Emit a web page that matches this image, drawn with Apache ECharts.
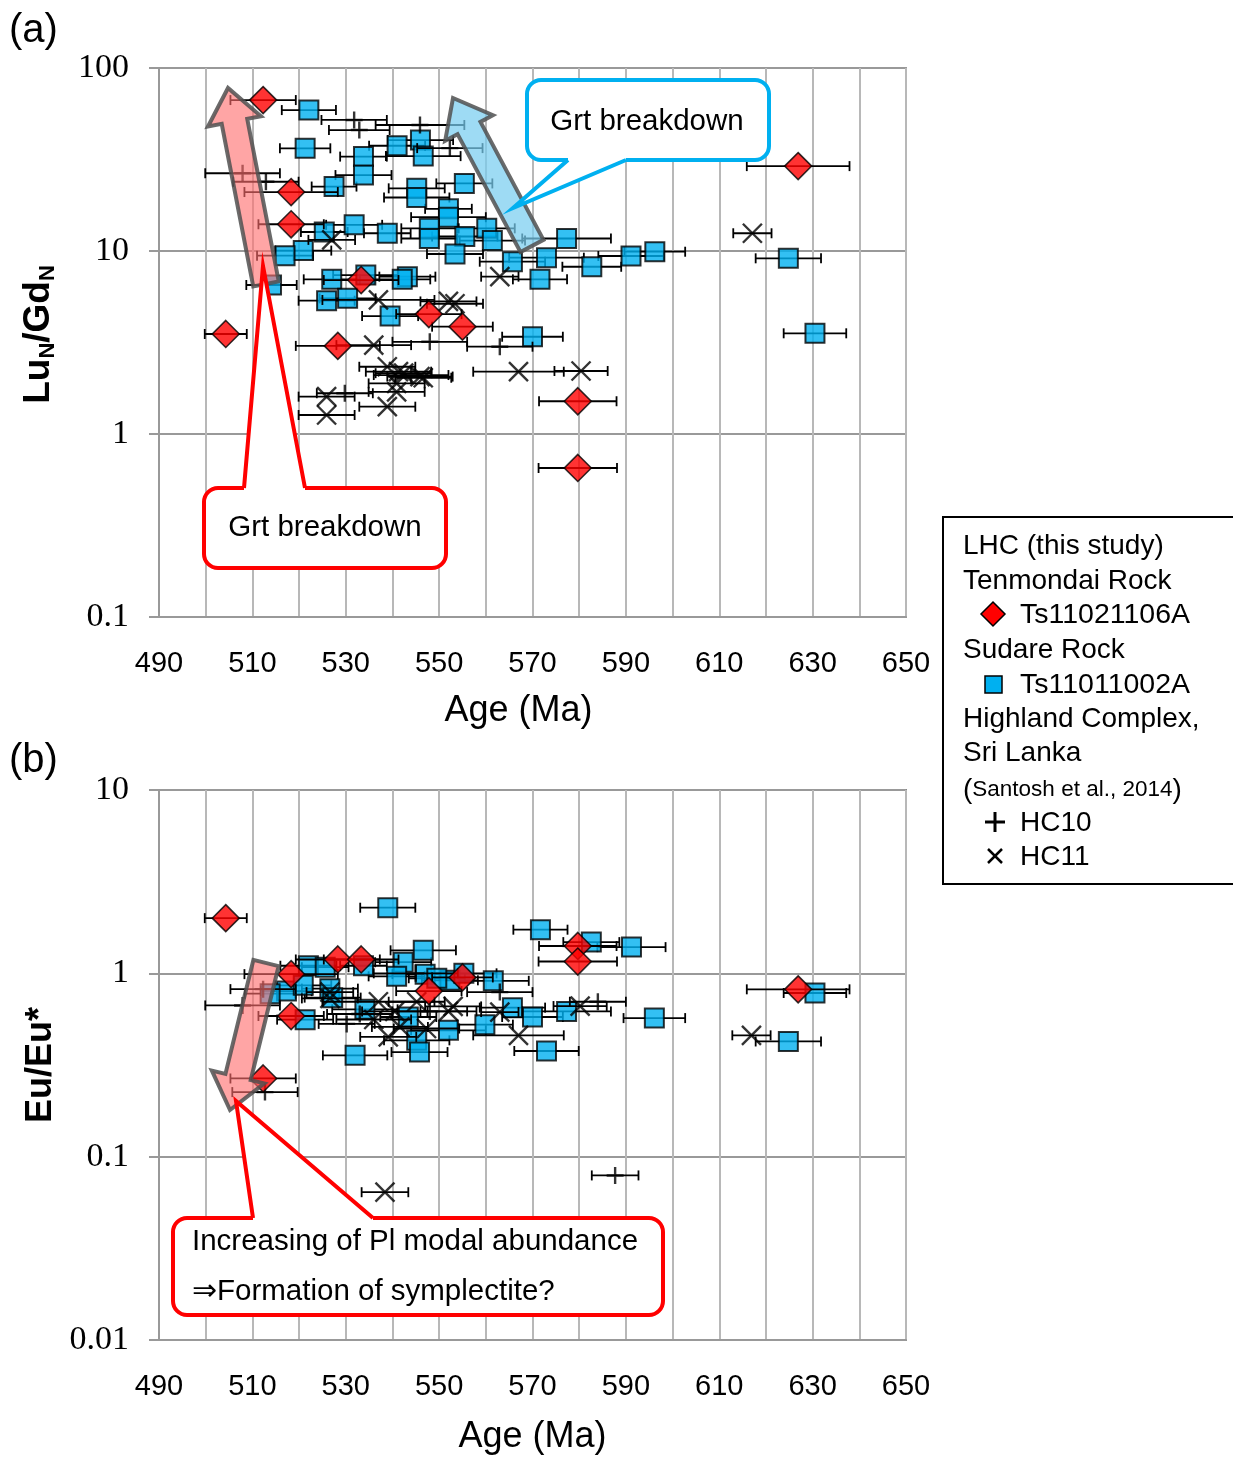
<!DOCTYPE html>
<html>
<head>
<meta charset="utf-8">
<script src="https://cdn.jsdelivr.net/npm/echarts@6/dist/echarts.min.js"></script>
<style>
  html, body { margin: 0; padding: 0; background: #fff; }
  #chart { width: 1233px; height: 1458px; }
</style>
</head>
<body>
<div id="chart"></div>
<script>
// ---- Zircon data: age (Ma) with 2σ error, Lu_N/Gd_N and Eu/Eu* ----

// Ts11021106A (Tenmondai Rock)
const tsDiaAge  = [504.3, 512.3, 518.3, 518.3, 528.3, 533.3, 547.8, 555.0, 579.7, 579.7, 626.9];
const tsDiaErr  = [4.5, 7.0, 10.0, 7.0, 9.0, 8.0, 7.0, 6.5, 8.3, 8.4, 11.0];
const tsDiaLuGd = [3.52, 66.8, 21.0, 14.0, 3.03, 6.94, 4.52, 3.86, 1.51, 0.652, 29.1];
const tsDiaEuEu = [2.00, 0.267, 0.99, 0.585, 1.19, 1.19, 0.80, 0.95, 1.41, 1.16, 0.818];

// Ts11011002A (Sudare Rock), Lu_N/Gd_N
const sqAgeA  = [522.1, 521.3, 527.5, 533.8, 533.8, 541.0, 546.0, 546.6, 555.4, 545.2,
                 545.2, 552.0, 552.0, 525.4, 531.8, 538.9, 547.9, 547.9, 555.5, 560.2,
                 561.4, 553.4, 520.9, 517.0, 514.1, 527.0, 534.3, 543.2, 542.1, 525.9,
                 530.4, 539.5, 565.7, 573.0, 577.3, 582.7, 591.1, 596.2, 571.6, 624.8,
                 630.5, 570.0];
const sqErrA  = [5.8, 5.4, 4.8, 5.0, 6.0, 6.0, 7.0, 8.0, 6.0, 6.0,
                 7.0, 5.0, 8.0, 5.0, 6.0, 5.0, 6.0, 6.0, 7.0, 6.0,
                 7.0, 6.0, 6.0, 6.0, 5.4, 6.0, 7.0, 6.0, 6.0, 6.0,
                 6.0, 6.0, 7.0, 8.0, 9.5, 6.3, 7.0, 6.5, 5.8, 7.0,
                 6.7, 6.5];
const sqLuGd  = [58.9, 36.4, 22.5, 32.8, 26.0, 37.6, 40.4, 33.0, 23.4, 22.0,
                 19.6, 17.0, 15.3, 12.7, 13.9, 12.5, 13.3, 11.7, 12.0, 13.3,
                 11.4, 9.63, 10.05, 9.43, 6.52, 7.0, 7.39, 7.24, 7.0, 5.35,
                 5.51, 4.41, 8.74, 9.19, 11.7, 8.2, 9.39, 9.91, 7.0, 9.12,
                 3.55, 3.40];

// Ts11011002A (Sudare Rock), Eu/Eu*
const sqAgeB  = [539.0, 571.7, 582.6, 591.2, 546.6, 542.3, 522.0, 525.6, 533.8, 540.9,
                 547.0, 552.3, 555.3, 561.6, 517.3, 520.9, 526.6, 527.2, 534.1, 543.4,
                 521.3, 545.2, 545.8, 552.0, 559.8, 565.7, 570.0, 577.3, 596.1, 573.0,
                 532.0, 630.5, 624.8, 513.8, 549.5];
const sqErrB  = [5.9, 5.8, 6.0, 7.3, 7.0, 6.0, 6.0, 5.0, 5.0, 6.0,
                 7.0, 6.0, 7.0, 7.6, 5.4, 6.0, 6.0, 6.0, 7.0, 6.0,
                 6.0, 7.0, 6.0, 8.0, 6.0, 7.0, 6.5, 9.5, 6.6, 6.9,
                 6.9, 6.7, 7.0, 5.4, 6.0];
const sqEuEu  = [2.28, 1.73, 1.48, 1.39, 1.335, 1.15, 1.10, 1.08, 1.10, 0.963,
                 0.99, 0.916, 1.0, 0.91, 0.80, 0.86, 0.825, 0.737, 0.636, 0.578,
                 0.559, 0.431, 0.372, 0.489, 0.525, 0.65, 0.578, 0.62, 0.57, 0.377,
                 0.357, 0.781, 0.425, 0.775, 0.94];

// Highland Complex, Sri Lanka (Santosh et al., 2014): HC10
const hc10AgeA = [507.9, 512.9, 531.8, 532.9, 545.9, 552.3, 548.0, 563.0, 529.8, 544.0];
const hc10ErrA = [8.0, 7.0, 7.0, 6.5, 9.5, 7.0, 8.0, 7.0, 6.0, 8.0];
const hc10LuGd = [26.6, 23.9, 52.0, 45.8, 48.8, 36.5, 3.19, 3.0, 1.67, 2.1];
const hc10AgeB = [587.7, 512.7, 507.9, 512.3, 563.0, 530.2, 533.0, 584.0, 548.0, 545.0];
const hc10ErrB = [5.0, 7.0, 8.0, 7.0, 7.0, 6.0, 7.0, 6.0, 8.0, 9.0];
const hc10EuEu = [0.079, 0.225, 0.668, 0.82, 0.79, 0.53, 0.60, 0.70, 0.62, 1.0];

// HC11
const hc11AgeA = [617.1, 527.0, 563.0, 537.0, 552.0, 553.4, 536.0, 567.0, 580.4, 538.9,
                  541.3, 542.4, 545.9, 546.6, 540.9, 540.9, 525.9, 525.9, 538.9];
const hc11ErrA = [4.1, 5.0, 4.0, 12.0, 6.0, 6.0, 8.0, 9.7, 5.7, 6.0,
                  7.0, 6.0, 7.0, 6.0, 6.0, 6.0, 6.0, 6.0, 6.0];
const hc11LuGd = [12.5, 11.5, 7.24, 5.4, 5.3, 5.15, 3.06, 2.19, 2.21, 2.33,
                  2.19, 2.15, 2.06, 2.03, 1.89, 1.70, 1.60, 1.27, 1.41];
const hc11AgeB = [616.9, 538.4, 580.2, 563.0, 567.0, 553.0, 526.6, 526.6, 537.0, 540.5,
                  541.6, 539.1, 547.3, 545.2, 552.0, 536.0];
const hc11ErrB = [4.1, 5.0, 5.7, 4.0, 9.7, 6.0, 5.0, 6.0, 12.0, 7.0,
                  6.0, 6.0, 7.0, 6.0, 6.0, 8.0];
const hc11EuEu = [0.459, 0.064, 0.663, 0.615, 0.459, 0.66, 0.79, 0.73, 0.70, 0.62,
                  0.51, 0.45, 0.50, 0.70, 0.62, 0.56];

// Axis ranges
const ageRange     = [490, 650];
const ageStep      = 10;
const ageLabelStep = 20;
const luGdRange    = [0.1, 100];
const euEuRange    = [0.01, 10];

// ---- styling ----
const SANS  = '"Liberation Sans", Arial, sans-serif';
const SERIF = '"Liberation Serif", "Times New Roman", serif';
const RED = '#ff0000';
const BLUE = '#00b0f0';
const PLUS = 'path://M5,0 L5,10 M0,5 L10,5';
const CROSS = 'path://M0,0 L10,10 M10,0 L0,10';

function zip(a, b, c) { return a.map((v, i) => c ? [v, b[i], c[i]] : [v, b[i]]); }

function errorBars(axis, ages, vals, errs, z) {
  return {
    type: 'custom', xAxisIndex: axis, yAxisIndex: axis, z, silent: true,
    dimensions: ['age', 'val', 'err'], encode: { x: 0, y: 1 },
    data: zip(ages, vals, errs),
    renderItem: function (params, api) {
      const a = api.value(0), v = api.value(1), e = api.value(2);
      const p0 = api.coord([a - e, v]);
      const p1 = api.coord([a + e, v]);
      const st = { stroke: '#000', lineWidth: 1.8 };
      const h = 5;
      return {
        type: 'group',
        children: [
          { type: 'line', shape: { x1: p0[0], y1: p0[1], x2: p1[0], y2: p1[1] }, style: st },
          { type: 'line', shape: { x1: p0[0], y1: p0[1] - h, x2: p0[0], y2: p0[1] + h }, style: st },
          { type: 'line', shape: { x1: p1[0], y1: p1[1] - h, x2: p1[0], y2: p1[1] + h }, style: st }
        ]
      };
    }
  };
}

function marks(axis, ages, vals, symbol, size, itemStyle, z) {
  return {
    type: 'scatter', xAxisIndex: axis, yAxisIndex: axis, z,
    symbol, symbolSize: size, itemStyle,
    emphasis: { disabled: true }, silent: true,
    data: zip(ages, vals)
  };
}

const diamondStyle = { color: RED, borderColor: '#000', borderWidth: 1.6 };
const squareStyle  = { color: BLUE, borderColor: '#000', borderWidth: 2 };
const lineMark     = { color: 'rgba(0,0,0,0)', borderColor: '#000', borderWidth: 2.4 };

function xAxis(idx, nameGap, namePad) {
  return {
    type: 'value', gridIndex: idx, min: ageRange[0], max: ageRange[1], interval: ageStep,
    axisLine: { show: true, lineStyle: { color: '#999', width: 2 } },
    axisTick: { show: false },
    axisLabel: {
      color: '#000', fontFamily: SANS, fontSize: 29, margin: 32,
      formatter: v => ((v - ageRange[0]) % ageLabelStep === 0 ? String(v) : '')
    },
    splitLine: { show: true, lineStyle: { color: '#b8b8b8', width: 2 } },
    name: 'Age (Ma)', nameLocation: 'middle', nameGap,
    nameTextStyle: { color: '#000', fontFamily: SANS, fontSize: 36, padding: namePad }
  };
}

function yAxis(idx, range, name, rich, namePad) {
  return {
    type: 'log', logBase: 10, gridIndex: idx, min: range[0], max: range[1],
    axisLine: { show: true, lineStyle: { color: '#999', width: 2 } },
    axisTick: { show: true, length: 10, lineStyle: { color: '#999', width: 2 } },
    axisLabel: { color: '#000', fontFamily: SERIF, fontSize: 34, margin: 30 },
    splitLine: { show: true, lineStyle: { color: '#999', width: 2 } },
    minorTick: { show: false }, minorSplitLine: { show: false },
    name, nameLocation: 'middle', nameRotate: 90, nameGap: 100,
    nameTextStyle: Object.assign({ color: '#000', fontFamily: SANS, fontWeight: 'bold', fontSize: 36,
                                   padding: namePad }, rich ? { rich } : {})
  };
}

// ---- annotation helpers ----
function arrowPoints(base, tip, shaftW, headW, headL) {
  const dx = tip[0] - base[0], dy = tip[1] - base[1];
  const len = Math.hypot(dx, dy);
  const ux = dx / len, uy = dy / len;
  const nx = -uy, ny = ux;
  const neck = [tip[0] - ux * headL, tip[1] - uy * headL];
  const s = shaftW / 2, hh = headW / 2;
  return [
    [base[0] + nx * s, base[1] + ny * s],
    [neck[0] + nx * s, neck[1] + ny * s],
    [neck[0] + nx * hh, neck[1] + ny * hh],
    tip,
    [neck[0] - nx * hh, neck[1] - ny * hh],
    [neck[0] - nx * s, neck[1] - ny * s],
    [base[0] - nx * s, base[1] - ny * s]
  ];
}

function arrow(base, tip, fill) {
  return {
    type: 'polygon', z: 50, silent: true,
    shape: { points: arrowPoints(base, tip, 26, 54, 34) },
    style: { fill, stroke: 'rgba(80,80,80,0.85)', lineWidth: 4, lineJoin: 'miter' }
  };
}

// callout: rounded box plus a pointed tail; tail = [a, tip, b], a/b on the box edge
function callout(box, tail, color, inward) {
  const [x, y, w, h] = box;
  const [a, tip, b] = tail;
  return [
    { type: 'rect', z: 60, silent: true, shape: { x, y, width: w, height: h, r: 14 },
      style: { fill: '#fff', stroke: color, lineWidth: 4 } },
    { type: 'polygon', z: 61, silent: true,
      shape: { points: [[a[0], a[1] + inward], a, tip, b, [b[0], b[1] + inward]] },
      style: { fill: '#fff', stroke: null } },
    { type: 'polyline', z: 62, silent: true, shape: { points: [a, tip, b] },
      style: { stroke: color, lineWidth: 4, fill: null, lineJoin: 'miter' } }
  ];
}

function label(text, x, y, size, align) {
  const al = align || 'left';
  return {
    type: 'text', z: 70, silent: true, x, y,
    style: { text, fill: '#000', font: size + 'px ' + SANS, align: al, verticalAlign: 'middle',
             textAlign: al, textVerticalAlign: 'middle' }
  };
}

const graphics = [
  // panel tags
  label('(a)', 9, 31, 40),
  label('(b)', 9, 761, 40),

  // trend arrows
  arrow([266, 284], [228, 88], 'rgba(255,110,110,0.62)'),
  arrow([532, 246], [453, 98], 'rgba(120,205,240,0.72)'),
  arrow([266, 963], [230, 1110], 'rgba(255,110,110,0.62)'),

  // callouts
  ...callout([527, 80, 242, 80], [[568, 160], [513, 208], [626, 160]], BLUE, -4),
  label('Grt breakdown', 647, 122, 29.5, 'center'),
  ...callout([204, 488, 242, 80], [[244, 488], [263, 266], [305, 488]], RED, 4),
  label('Grt breakdown', 325, 528, 29.5, 'center'),
  ...callout([173, 1218, 490, 97], [[253, 1218], [236, 1101], [373, 1218]], RED, 4),
  label('Increasing of Pl modal abundance', 192, 1242, 29.5),
  label('⇒Formation of symplectite?', 192, 1292, 29.5),

  // legend box
  { type: 'rect', z: 65, silent: true, shape: { x: 943, y: 517, width: 320, height: 367 },
    style: { fill: '#fff', stroke: '#000', lineWidth: 2 } },
  label('LHC (this study)', 963, 546, 28),
  label('Tenmondai Rock', 963, 581, 28),
  { type: 'polygon', z: 70, silent: true, shape: { points: [[993, 602], [1005, 614], [993, 626], [981, 614]] },
    style: { fill: RED, stroke: '#000', lineWidth: 1.5 } },
  label('Ts11021106A', 1020, 615, 28.5),
  label('Sudare Rock', 963, 650, 28),
  { type: 'rect', z: 70, silent: true, shape: { x: 985, y: 676, width: 17, height: 17 },
    style: { fill: BLUE, stroke: '#000', lineWidth: 1.5 } },
  label('Ts11011002A', 1020, 685, 28.5),
  label('Highland Complex,', 963, 719, 28),
  label('Sri Lanka', 963, 753, 28),
  { type: 'text', z: 70, silent: true, x: 963, y: 790,
    style: { text: '{p|(}{s|Santosh et al., 2014}{p|)}', verticalAlign: 'middle', textVerticalAlign: 'middle',
             rich: { p: { font: '28px ' + SANS, fill: '#000' }, s: { font: '22.5px ' + SANS, fill: '#000' } } } },
  { type: 'polyline', z: 70, silent: true, shape: { points: [[995, 812], [995, 832]] },
    style: { stroke: '#000', lineWidth: 3 } },
  { type: 'polyline', z: 70, silent: true, shape: { points: [[985, 822], [1005, 822]] },
    style: { stroke: '#000', lineWidth: 3 } },
  label('HC10', 1020, 823, 28),
  { type: 'polyline', z: 70, silent: true, shape: { points: [[988, 849], [1002, 863]] },
    style: { stroke: '#000', lineWidth: 2.5 } },
  { type: 'polyline', z: 70, silent: true, shape: { points: [[1002, 849], [988, 863]] },
    style: { stroke: '#000', lineWidth: 2.5 } },
  label('HC11', 1020, 857, 28)
];

const option = {
  animation: false,
  backgroundColor: '#fff',
  grid: [
    { left: 159, top: 68, width: 747, height: 549, show: true, borderColor: '#999', borderWidth: 2,
      outerBoundsMode: 'none' },
    { left: 159, top: 790, width: 747, height: 550, show: true, borderColor: '#888', borderWidth: 2,
      outerBoundsMode: 'none' }
  ],
  xAxis: [ xAxis(0, 76, [0, 28, 0, 0]), xAxis(1, 79, [0, 0, 0, 0]) ],
  yAxis: [
    yAxis(0, luGdRange, '{m|Lu}{s|N}{m|/Gd}{s|N}', {
      m: { fontFamily: SANS, fontWeight: 'bold', fontSize: 37, lineHeight: 40, color: '#000', verticalAlign: 'middle' },
      s: { fontFamily: SANS, fontWeight: 'bold', fontSize: 22, lineHeight: 22, color: '#000', verticalAlign: 'bottom' }
    }, [0, 0, 0, 16]),
    yAxis(1, euEuRange, 'Eu/Eu*', null, [0, 0, 0, 0])
  ],
  series: [
    // Lu_N/Gd_N panel
    errorBars(0, sqAgeA, sqLuGd, sqErrA, 2),
    marks(0, sqAgeA, sqLuGd, 'rect', 19, squareStyle, 3),
    errorBars(0, hc10AgeA, hc10LuGd, hc10ErrA, 4),
    marks(0, hc10AgeA, hc10LuGd, PLUS, 17, lineMark, 4),
    errorBars(0, hc11AgeA, hc11LuGd, hc11ErrA, 4),
    marks(0, hc11AgeA, hc11LuGd, CROSS, 19, lineMark, 5),
    errorBars(0, tsDiaAge, tsDiaLuGd, tsDiaErr, 5),
    marks(0, tsDiaAge, tsDiaLuGd, 'diamond', 27, diamondStyle, 6),
    // Eu/Eu* panel
    errorBars(1, sqAgeB, sqEuEu, sqErrB, 2),
    marks(1, sqAgeB, sqEuEu, 'rect', 19, squareStyle, 3),
    errorBars(1, hc10AgeB, hc10EuEu, hc10ErrB, 4),
    marks(1, hc10AgeB, hc10EuEu, PLUS, 17, lineMark, 4),
    errorBars(1, hc11AgeB, hc11EuEu, hc11ErrB, 4),
    marks(1, hc11AgeB, hc11EuEu, CROSS, 19, lineMark, 5),
    errorBars(1, tsDiaAge, tsDiaEuEu, tsDiaErr, 5),
    marks(1, tsDiaAge, tsDiaEuEu, 'diamond', 27, diamondStyle, 6)
  ],
  graphic: { elements: graphics }
};

const chart = echarts.init(document.getElementById('chart'), null, { renderer: 'canvas' });
chart.setOption(option);
</script>
</body>
</html>
